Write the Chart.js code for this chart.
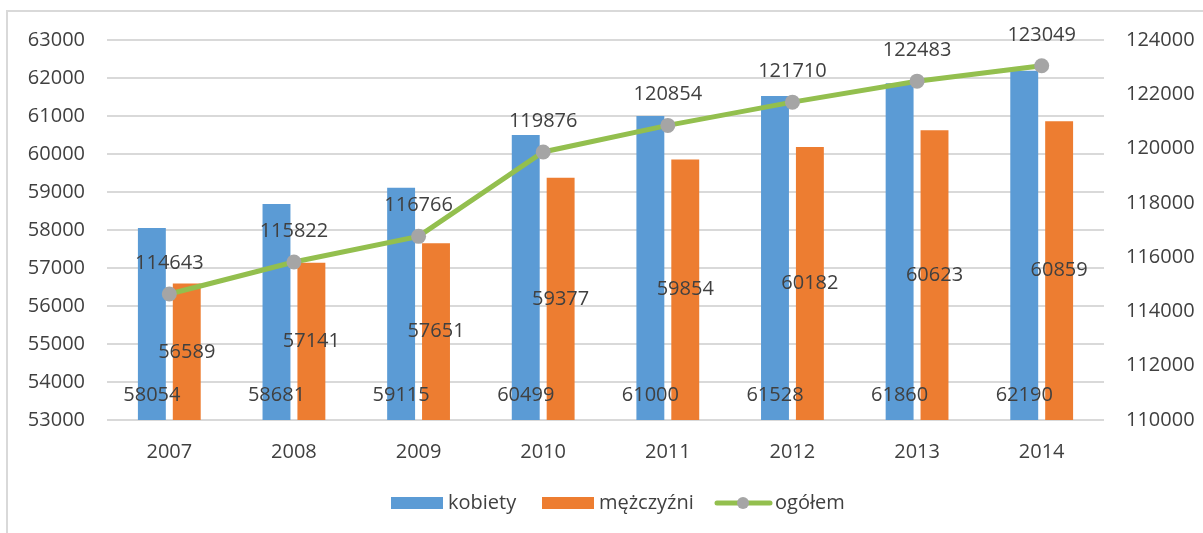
<!DOCTYPE html>
<html>
<head>
<meta charset="utf-8">
<script src="https://cdn.jsdelivr.net/npm/chart.js@4"></script>
<style>
  html, body { margin: 0; padding: 0; background: #fff; }
  #wrap { width: 1203px; height: 533px; position: relative; }
</style>
</head>
<body>
<div id="wrap"><canvas id="chart" width="1203" height="533"></canvas></div>
<script>
// data
const years = ["2007", "2008", "2009", "2010", "2011", "2012", "2013", "2014"];
const kobiety = [58054, 58681, 59115, 60499, 61000, 61528, 61860, 62190];
const mezczyzni = [56589, 57141, 57651, 59377, 59854, 60182, 60623, 60859];
const ogolem = [114643, 115822, 116766, 119876, 120854, 121710, 122483, 123049];

const FONT = "'Open Sans', 'Liberation Sans', sans-serif";
const TEXT = "#404040";
const BLUE = "#5B9BD5", ORANGE = "#ED7D31", GREEN = "#93BF4E", GREY = "#A5A5A5";

// outer frame like the office chart border
const framePlugin = {
    id: "frame",
    beforeDraw(chart) {
        const ctx = chart.ctx;
        ctx.save();
        ctx.strokeStyle = "#d9d9d9";
        ctx.lineWidth = 2;
        ctx.strokeRect(7, 11, 1400, 800);
        ctx.restore();
    }
};

// value labels: kobiety at the base, mezczyzni in the middle, ogolem above points
const labelPlugin = {
    id: "valueLabels",
    afterDatasetsDraw(chart) {
        const ctx = chart.ctx;
        const yScale = chart.scales.y;
        const base = yScale.bottom;
        ctx.save();
        ctx.font = "20px " + FONT;
        ctx.fillStyle = TEXT;
        ctx.textAlign = "center";
        ctx.textBaseline = "middle";
        chart.getDatasetMeta(0).data.forEach((bar, i) => {
            ctx.fillText(kobiety[i], bar.x, base - 25);
        });
        chart.getDatasetMeta(1).data.forEach((bar, i) => {
            const top = yScale.getPixelForValue(mezczyzni[i]);
            ctx.fillText(mezczyzni[i], bar.x, (top + base) / 2);
        });
        chart.getDatasetMeta(2).data.forEach((pt, i) => {
            ctx.fillText(ogolem[i], pt.x, pt.y - 31);
        });
        ctx.restore();
    }
};

// legend drawn at the bottom
const legendPlugin = {
    id: "customLegend",
    afterDraw(chart) {
        const ctx = chart.ctx;
        const y = 503;
        ctx.save();
        ctx.font = "20px " + FONT;
        ctx.textBaseline = "middle";
        ctx.textAlign = "left";
        ctx.fillStyle = BLUE;
        ctx.fillRect(391, y - 6, 52, 12);
        ctx.fillStyle = TEXT;
        ctx.fillText("kobiety", 448, y);
        ctx.fillStyle = ORANGE;
        ctx.fillRect(542, y - 6, 52, 12);
        ctx.fillStyle = TEXT;
        ctx.fillText("mężczyźni", 599, y);
        ctx.strokeStyle = GREEN;
        ctx.lineWidth = 5;
        ctx.lineCap = "round";
        ctx.beginPath();
        ctx.moveTo(717, y);
        ctx.lineTo(770, y);
        ctx.stroke();
        ctx.fillStyle = GREY;
        ctx.beginPath();
        ctx.arc(743, y, 6, 0, Math.PI * 2);
        ctx.fill();
        ctx.fillStyle = TEXT;
        ctx.fillText("ogółem", 775, y);
        ctx.restore();
    }
};

const plain = v => String(v);

new Chart(document.getElementById("chart").getContext("2d"), {
    type: "bar",
    data: {
        labels: years,
        datasets: [
            { label: "kobiety", data: kobiety, backgroundColor: BLUE, yAxisID: "y", order: 1,
              categoryPercentage: 0.56, barPercentage: 0.8 },
            { label: "mężczyźni", data: mezczyzni, backgroundColor: ORANGE, yAxisID: "y", order: 1,
              categoryPercentage: 0.56, barPercentage: 0.8 },
            { type: "line", label: "ogółem", data: ogolem, yAxisID: "y2", order: 0,
              borderColor: GREEN, borderWidth: 5, pointRadius: 7.5, pointBorderWidth: 0,
              pointBackgroundColor: GREY, pointBorderColor: GREY, tension: 0 }
        ]
    },
    options: {
        responsive: false,
        animation: false,
        layout: { padding: { top: 40, left: 0, right: 0, bottom: 0 } },
        plugins: { legend: { display: false }, tooltip: { enabled: false } },
        scales: {
            x: {
                grid: { display: false },
                border: { display: false },
                ticks: { color: TEXT, font: { family: FONT, size: 20 }, padding: 12 },
                afterFit(s) { s.height = 113; }
            },
            y: {
                position: "left",
                min: 53000, max: 63000,
                ticks: { stepSize: 1000, color: TEXT, font: { family: FONT, size: 20 }, padding: 22, callback: plain },
                grid: { color: "#d9d9d9", lineWidth: 2, drawTicks: false },
                border: { display: false },
                afterFit(s) { s.width = 107; }
            },
            y2: {
                position: "right",
                min: 110000, max: 124000,
                ticks: { stepSize: 2000, color: TEXT, font: { family: FONT, size: 20 }, padding: 22, callback: plain },
                grid: { display: false, drawTicks: false },
                border: { display: false },
                afterFit(s) { s.width = 99; }
            }
        }
    },
    plugins: [framePlugin, labelPlugin, legendPlugin]
});
</script>
</body>
</html>
